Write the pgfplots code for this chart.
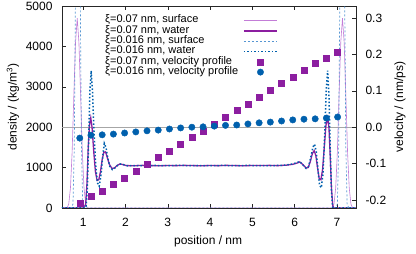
\documentclass[border=0pt]{standalone}
\usepackage{fontspec}
\setmainfont{Liberation Sans}
\usepackage{pgfplots}
\usepackage{pgfplotstable}
\pgfplotsset{compat=1.18}
\definecolor{dpurple}{RGB}{140,30,160}
\definecolor{lpurple}{RGB}{195,125,215}
\definecolor{dblue}{RGB}{0,96,173}
\definecolor{lblue}{RGB}{86,150,210}
\pgfplotsset{
  lineleg/.style={legend image code/.code={\draw[##1] (0pt,0pt) -- (33pt,0pt);}},
  markleg/.style={legend image code/.code={\draw[draw=white, draw opacity=0, fill=none, line width=0.1pt, mark=none] (0pt,0pt) -- (33pt,0pt);\draw[##1, only marks] plot coordinates {(16.5pt,0pt)};}},
}

\pgfplotstableread{
x y
0.5 0
1.02 0
1.06 100
1.09 600
1.12 1500
1.15 2050
1.18 2230
1.21 2000
1.25 1400
1.29 900
1.33 680
1.37 700
1.41 900
1.45 1200
1.49 1380
1.53 1390
1.57 1250
1.62 1080
1.68 980
1.74 990
1.80 1050
1.87 1090
1.94 1075
2.02 1050
2.2 1045
2.4 1055
2.6 1050
2.8 1045
3.0 1052
3.2 1048
3.4 1055
3.6 1050
3.8 1045
4.0 1052
4.2 1048
4.4 1055
4.6 1050
4.8 1045
5.0 1052
5.2 1050
5.4 1055
5.6 1048
5.8 1060
5.95 1080
6.05 1110
6.12 1140
6.2 1070
6.27 990
6.32 1000
6.37 1150
6.42 1350
6.46 1420
6.50 1300
6.54 1000
6.58 730
6.62 700
6.66 950
6.70 1500
6.74 2050
6.78 2230
6.81 2000
6.84 1300
6.87 500
6.90 50
6.93 0
7.45 0
}\waterA

\pgfplotstableread{
x y
0.5 0
1.04 0
1.07 50
1.10 500
1.13 1700
1.16 2900
1.19 3400
1.22 2900
1.26 1800
1.30 1000
1.34 620
1.38 540
1.42 800
1.46 1250
1.50 1600
1.54 1500
1.58 1250
1.63 1030
1.69 950
1.75 990
1.82 1060
1.89 1090
1.96 1070
2.05 1045
2.3 1052
2.5 1046
2.7 1054
2.9 1048
3.1 1050
3.3 1056
3.5 1046
3.7 1052
3.9 1050
4.1 1046
4.3 1054
4.5 1050
4.7 1048
4.9 1055
5.1 1047
5.3 1052
5.5 1050
5.7 1055
5.8 1065
5.95 1090
6.05 1120
6.12 1150
6.2 1060
6.27 980
6.33 1030
6.38 1250
6.43 1500
6.47 1580
6.51 1400
6.55 950
6.59 560
6.63 500
6.67 850
6.71 1800
6.75 3000
6.78 3400
6.81 2800
6.84 1500
6.87 400
6.90 20
6.93 0
7.45 0
}\waterB

\pgfplotstableread{
x y
0.5 0
0.62 0
0.66 100
0.70 500
0.74 1400
0.78 2800
0.82 4100
0.86 4700
0.90 4100
0.94 2800
0.98 1400
1.02 500
1.06 100
1.10 0
6.89 0
6.93 100
6.97 500
7.01 1400
7.05 2800
7.09 4100
7.13 4700
7.17 4100
7.21 2800
7.25 1400
7.29 500
7.33 100
7.37 0
7.45 0
}\surfA

\pgfplotstableread{
x y
0.5 0
0.72 0
0.76 100
0.79 1500
0.82 5500
0.85 9000
0.875 10000
0.90 9000
0.93 5500
0.96 1500
0.99 100
1.03 0
6.97 0
7.01 100
7.04 1500
7.07 5500
7.10 9000
7.125 10000
7.15 9000
7.18 5500
7.21 1500
7.24 100
7.28 0
7.45 0
}\surfB

\pgfplotstableread{
x vA vB
0.920 -0.208 -0.030
1.185 -0.189 -0.022
1.450 -0.175 -0.021
1.715 -0.156 -0.019
1.980 -0.140 -0.016
2.245 -0.120 -0.013
2.510 -0.101 -0.010
2.775 -0.082 -0.008
3.040 -0.065 -0.005
3.305 -0.046 -0.002
3.570 -0.027 0.000
3.835 -0.010 0.001
4.100 0.009 0.003
4.365 0.028 0.005
4.630 0.047 0.006
4.895 0.064 0.009
5.160 0.083 0.012
5.425 0.102 0.014
5.690 0.122 0.017
5.955 0.138 0.020
6.220 0.157 0.022
6.485 0.177 0.023
6.750 0.190 0.025
7.015 0.207 0.028
}\vel

\begin{document}
\begin{tikzpicture}
\pgfplotsset{
  every axis/.append style={
    scale only axis, width=294pt, height=202pt,
    xmin=0.5, xmax=7.45,
    tick align=inside, major tick length=4pt,
    axis line style={black!85, line width=0.5pt},
    every tick/.style={black!85, line width=0.5pt},
    tick label style={font=\fontsize{12}{14}\selectfont},
    label style={font=\fontsize{12}{14}\selectfont},
    /pgf/number format/assume math mode=true,
  }
}
\begin{axis}[
  ymin=0, ymax=5000,
  xtick={1,...,7}, xtick pos=both,
  ytick={0,1000,...,5000}, ytick pos=left,
  /pgf/number format/1000 sep={},
  xticklabel style={yshift=-7pt},
  yticklabel style={xshift=-6pt},
  xlabel={position / nm},
  xlabel style={at={(axis description cs:0.497,-0.163)}, anchor=center},
  ylabel={density / (kg/m\textsuperscript{3})},
  ylabel style={at={(axis description cs:-0.167,0.5)}, anchor=center},
]
\addplot[gray!70, line width=0.5pt, forget plot] coordinates {(0.5,2000) (7.45,2000)};
\addplot[lpurple, line width=0.6pt] table[x=x,y=y] {\surfA};
\addplot[dpurple, line width=1.3pt] table[x=x,y=y] {\waterA};
\addplot[lblue, line width=0.7pt, dash pattern=on 2pt off 2pt] table[x=x,y=y] {\surfB};
\addplot[dblue, line width=1.5pt, dash pattern=on 1.5pt off 2pt] table[x=x,y=y] {\waterB};
\end{axis}
\begin{axis}[
  ymin=-0.222222, ymax=0.333333,
  axis y line*=right, axis x line=none,
  ytick={-0.2,-0.1,0,0.1,0.2,0.3},
  yticklabel style={xshift=6pt, /pgf/number format/.cd, fixed, fixed zerofill, precision=1},
  ylabel={velocity / (nm/ps)},
  ylabel style={at={(axis description cs:1.15,0.5)}, anchor=center},
  legend style={at={(axis description cs:0.136,0.962)}, anchor=north west, draw=none, fill=none,
    font=\fontsize{11}{13}\selectfont, row sep=0.8pt, column sep=5pt,
    nodes={inner sep=0pt, text height=7pt, text depth=2.5pt}},
  legend cell align=left, legend plot pos=right,
  lineleg,
]
\addlegendimage{lpurple, line width=0.6pt}
\addlegendentry{ξ=0.07 nm, surface}
\addlegendimage{dpurple, line width=1.3pt}
\addlegendentry{ξ=0.07 nm, water}
\addlegendimage{lblue, line width=0.7pt, dash pattern=on 2pt off 2pt}
\addlegendentry{ξ=0.016 nm, surface}
\addlegendimage{dblue, line width=1.5pt, dash pattern=on 1.5pt off 2pt}
\addlegendentry{ξ=0.016 nm, water}
\addplot[only marks, mark=square*, mark size=3pt, color=dpurple, markleg] table[x=x,y=vA] {\vel};
\addlegendentry{ξ=0.07 nm, velocity profile}
\addplot[only marks, mark=*, mark size=3.2pt, color=dblue, markleg] table[x=x,y=vB] {\vel};
\addlegendentry{ξ=0.016 nm, velocity profile}
\end{axis}
\pgfresetboundingbox
\path (-62pt,-46pt) rectangle (354pt,208pt);
\end{tikzpicture}
\end{document}
